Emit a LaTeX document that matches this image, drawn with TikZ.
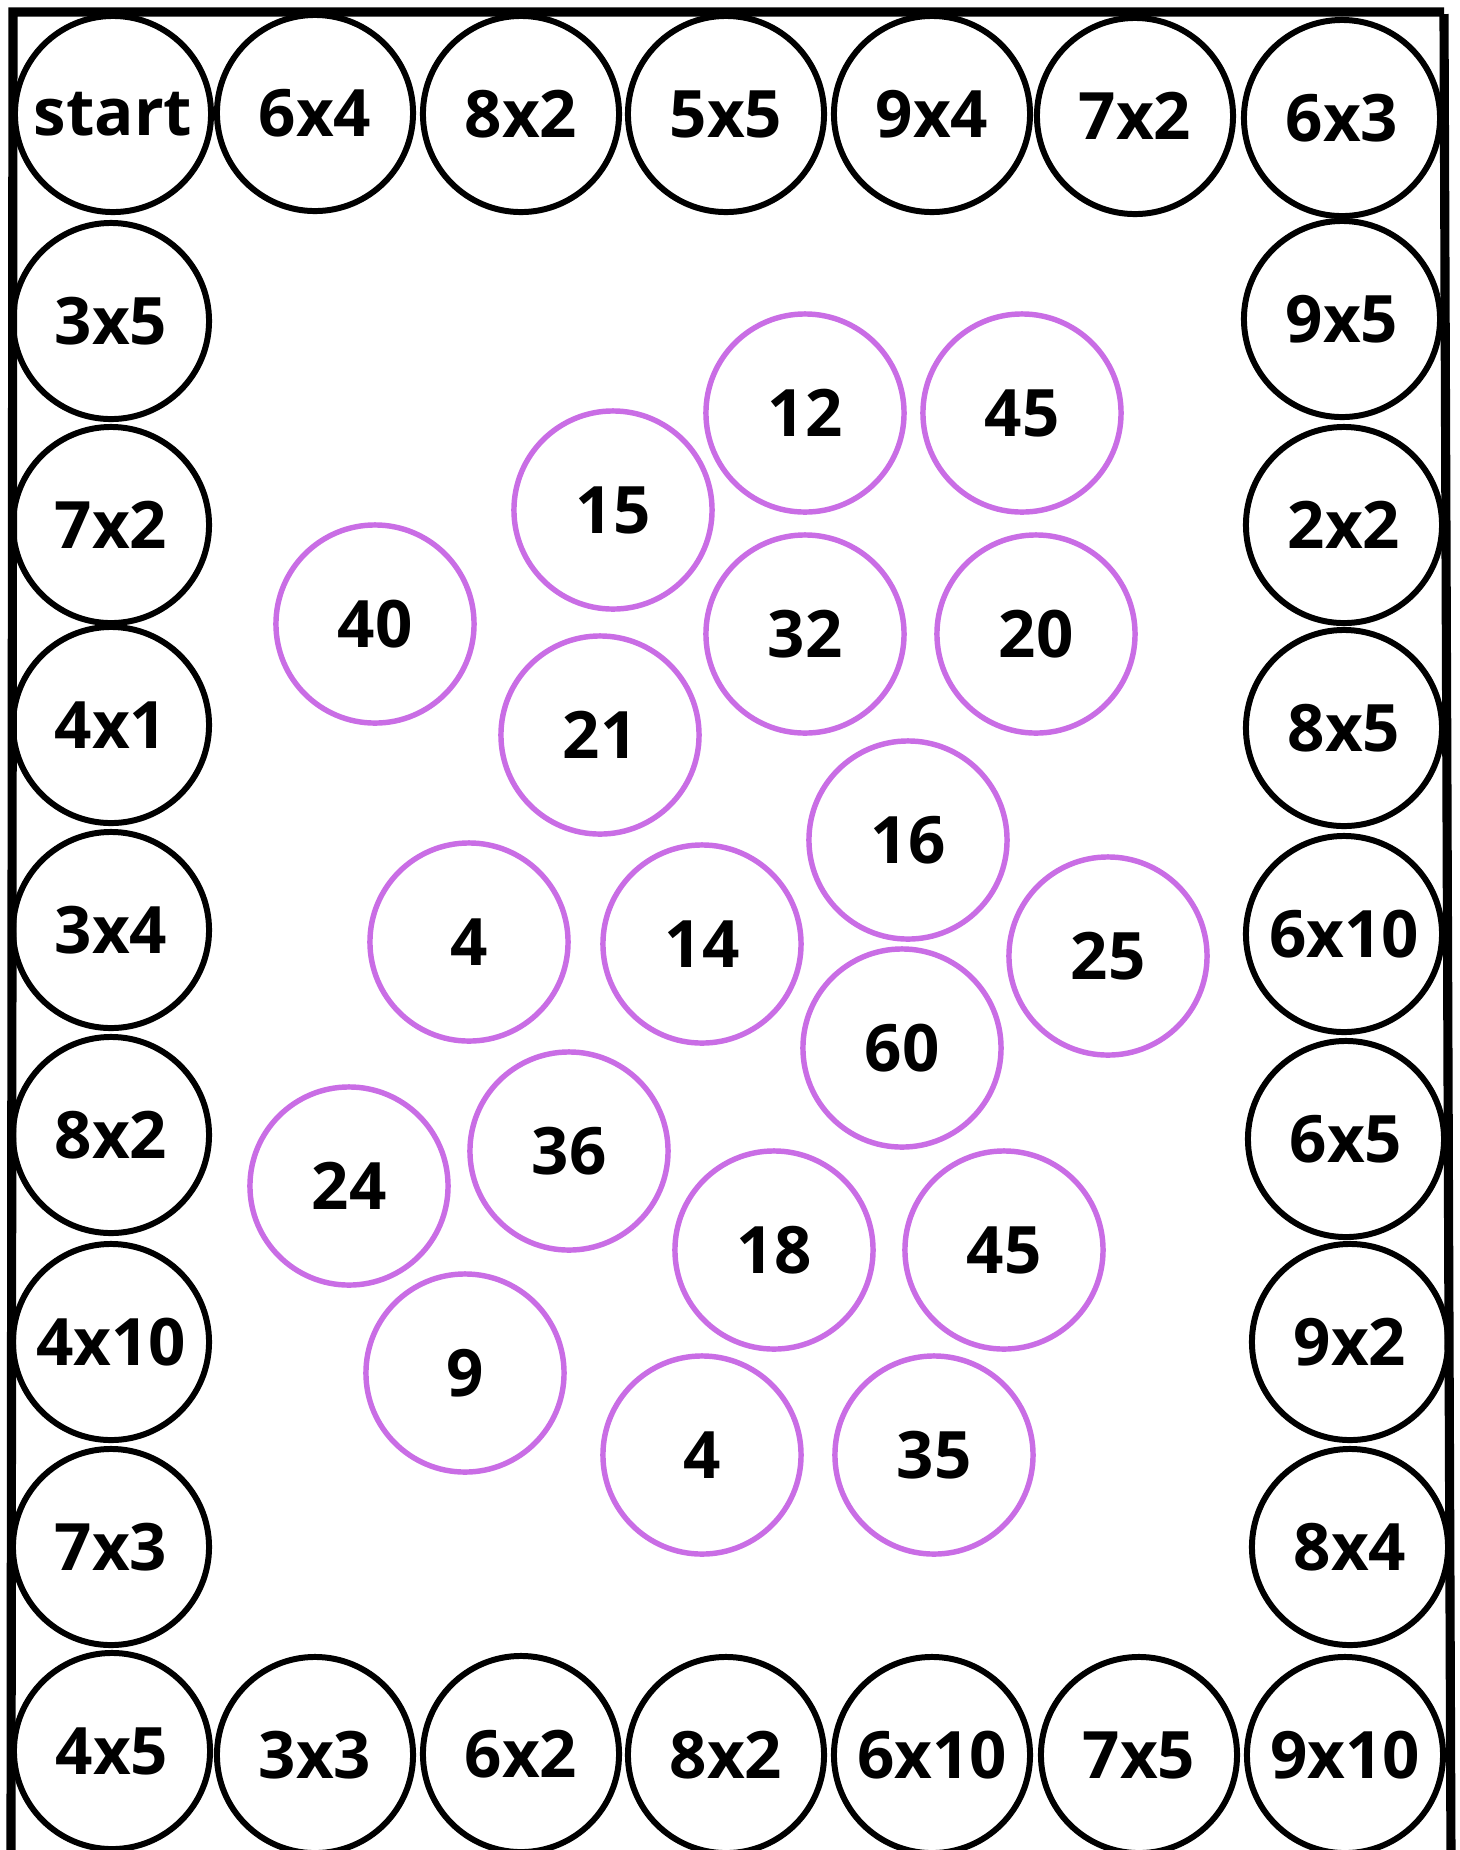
\documentclass[tikz,border=0pt]{standalone}
\usepackage{fontspec}
\setmainfont{Open Sans}
\usepackage{tikz}
\usetikzlibrary{positioning}
\definecolor{board}{HTML}{000000}
\definecolor{answer}{HTML}{C96DE5}

\begin{document}
\begin{tikzpicture}[
  x=0.01cm, y=-0.01cm,
  cell/.style={circle, draw=board, line width=1.7pt, minimum size=1.96cm,
               inner sep=0pt, font=\fontsize{18.6}{22}\selectfont\bfseries},
  ans/.style={cell, draw=answer, line width=1.55pt, minimum size=1.98cm},
  frame/.style={draw=board, line width=2.6pt}
]
  \useasboundingbox (0,0) rectangle (1460,1850);

  % Frame
  \draw[frame] (11,1860) -- (13,12) -- (1444,12);
  \draw[frame] (1444,14) -- (1451,1860);

  % Top row
  \node[cell] (start) at (113,114) {start};
  \node[cell] (t1) at (315,113) {6x4};
  \node[cell] (t2) at (521,114) {8x2};
  \node[cell] (t3) at (726,114) {5x5};
  \node[cell] (t4) at (932,114) {9x4};
  \node[cell] (t5) at (1135,116) {7x2};
  \node[cell] (t6) at (1342,118) {6x3};

  % Left column
  \node[cell] (l1) at (111,321) {3x5};
  \node[cell] (l2) at (111,525) {7x2};
  \node[cell] (l3) at (111,725) {4x1};
  \node[cell] (l4) at (111,930) {3x4};
  \node[cell] (l5) at (111,1135) {8x2};
  \node[cell] (l6) at (111,1342) {4x10};
  \node[cell] (l7) at (111,1547) {7x3};
  \node[cell] (l8) at (112,1751) {4x5};

  % Right column
  \node[cell] (r1) at (1342,319) {9x5};
  \node[cell] (r2) at (1344,525) {2x2};
  \node[cell] (r3) at (1344,728) {8x5};
  \node[cell] (r4) at (1344,934) {6x10};
  \node[cell] (r5) at (1346,1139) {6x5};
  \node[cell] (r6) at (1350,1342) {9x2};
  \node[cell] (r7) at (1350,1547) {8x4};
  \node[cell] (r8) at (1345,1755) {9x10};

  % Bottom row
  \node[cell] (b1) at (315,1755) {3x3};
  \node[cell] (b2) at (521,1754) {6x2};
  \node[cell] (b3) at (726,1755) {8x2};
  \node[cell] (b4) at (932,1755) {6x10};
  \node[cell] (b5) at (1139,1755) {7x5};

  % Answers
  \node[ans] (a12) at (805,413) {12};
  \node[ans] (a45) at (1022,413) {45};
  \node[ans] (a15) at (613,510) {15};
  \node[ans] (a40) at (375,624) {40};
  \node[ans] (a32) at (805,634) {32};
  \node[ans] (a20) at (1036,634) {20};
  \node[ans] (a21) at (600,735) {21};
  \node[ans] (a16) at (908,840) {16};
  \node[ans] (a4) at (469,942) {4};
  \node[ans] (a14) at (702,944) {14};
  \node[ans] (a25) at (1108,956) {25};
  \node[ans] (a60) at (902,1048) {60};
  \node[ans] (a36) at (569,1151) {36};
  \node[ans] (a24) at (349,1186) {24};
  \node[ans] (a18) at (774,1250) {18};
  \node[ans] (a45b) at (1004,1250) {45};
  \node[ans] (a9) at (465,1373) {9};
  \node[ans] (a4b) at (702,1455) {4};
  \node[ans] (a35) at (934,1455) {35};
\end{tikzpicture}
\end{document}
